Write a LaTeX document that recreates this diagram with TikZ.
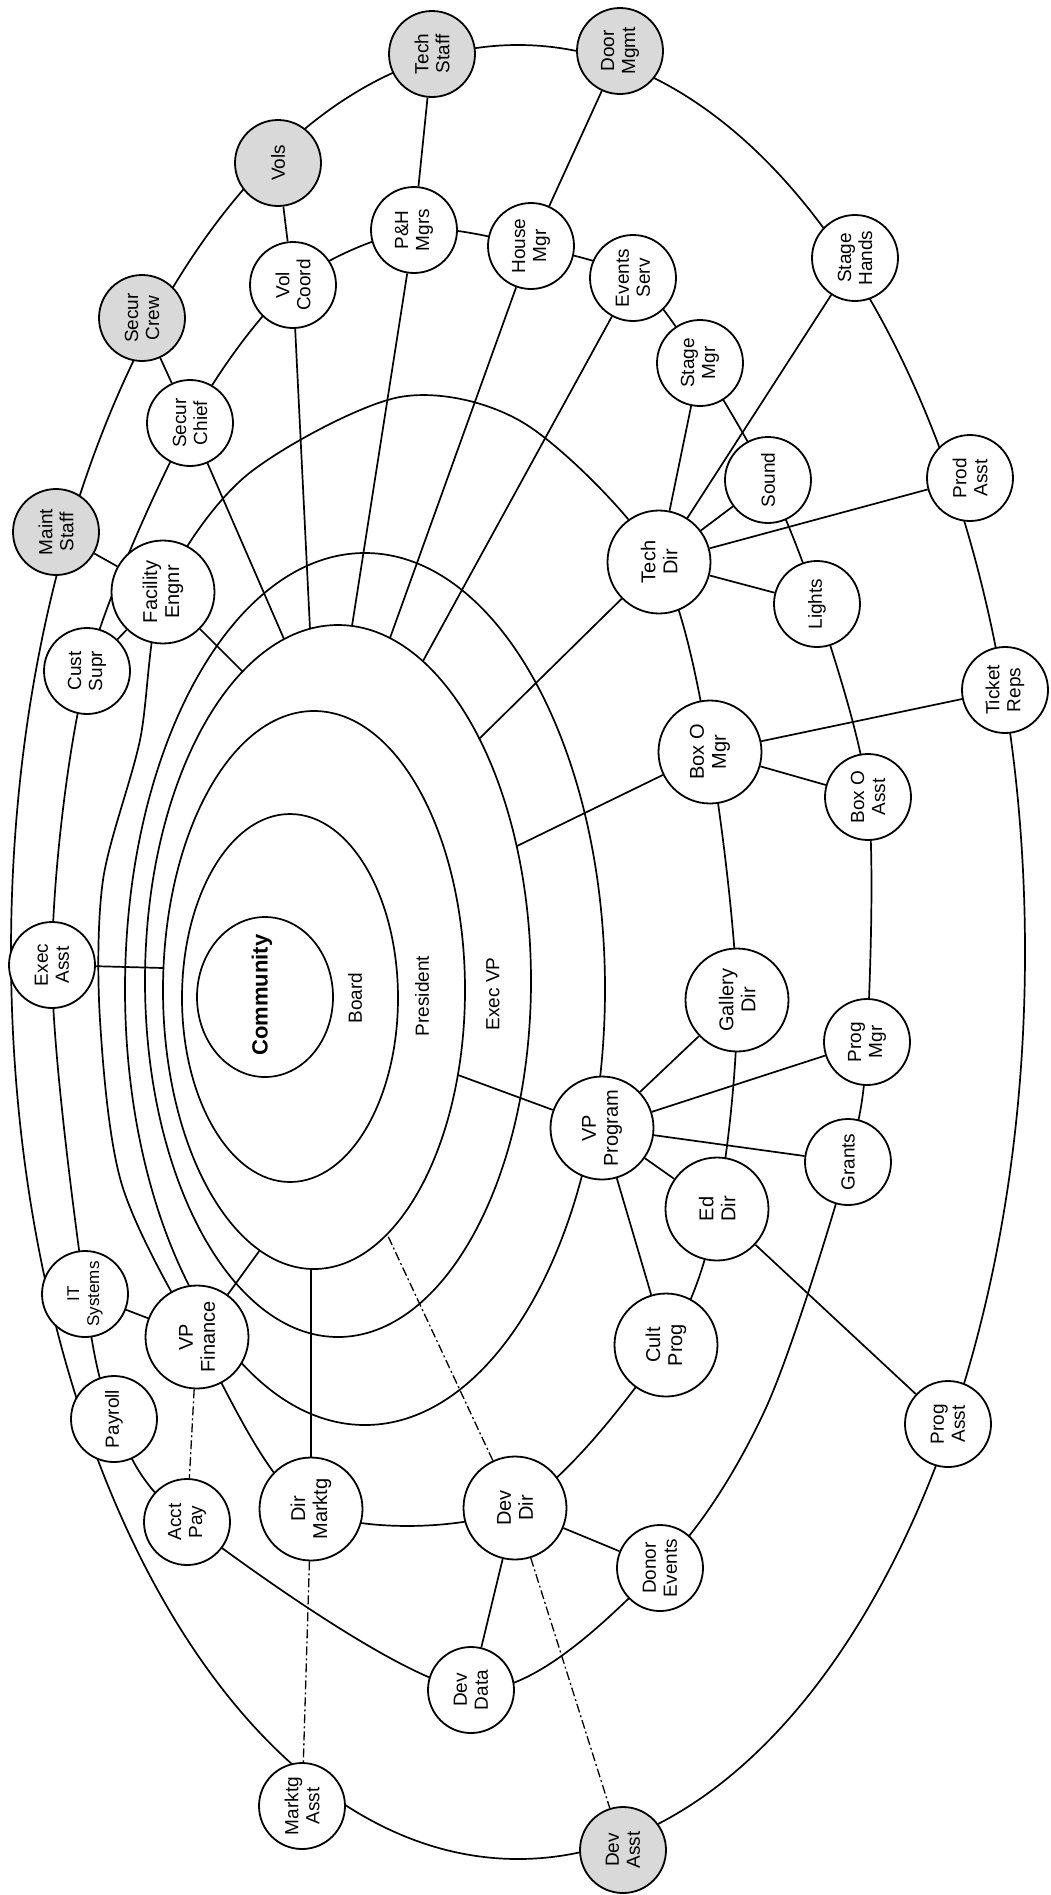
\documentclass[tikz,border=0pt]{standalone}
\usepackage{fontspec}
\setmainfont{Liberation Sans}
\pgfdeclarelayer{bg}
\pgfsetlayers{bg,main}
\begin{document}
\begin{tikzpicture}[x=1pt,y=-1pt,
  ring/.style={line width=1.7pt},
  conn/.style={line width=1.7pt},
  dd/.style={line width=1.3pt, dash pattern=on 9pt off 3pt on 2pt off 3pt},
  person/.style={circle, draw, line width=1.8pt, fill=white, inner sep=0pt, minimum size=86pt, align=center, font=\fontsize{19}{21}\selectfont, rotate=90},
  chief/.style={person, minimum size=103pt, font=\fontsize{20}{22}\selectfont},
  shaded/.style={fill=black!15},
  level/.style={font=\fontsize{19}{21}\selectfont, rotate=90, inner sep=0pt},
]
\useasboundingbox (0,0) rectangle (1050,1895);

% ---------- nodes ----------
\node[person, shaded] (techstaff) at (432,54) {Tech\\Staff};
\node[person, shaded] (drama) at (620,51) {Door\\Mgmt};
\node[person, shaded] (vols) at (278,163) {Vols};
\node[person, shaded] (secrew) at (142,318) {Secur\\Crew};
\node[person, shaded] (maint) at (56,532) {Maint\\Staff};
\node[person] (fb) at (414,230) {P\&H\\Mgrs};
\node[person] (volc) at (293,285) {Vol\\Coord};
\node[person] (secchief) at (190,423) {Secur\\Chief};
\node[person] (house) at (531,246) {House\\Mgr};
\node[person] (events) at (633,278) {Events\\Serv};
\node[person] (stagemgr) at (700,363) {Stage\\Mgr};
\node[person] (stagehands) at (855,258) {Stage\\Hands};
\node[person] (sound) at (768,480) {Sound};
\node[person] (prodasst) at (970,478) {Prod\\Asst};
\node[chief] (techdir) at (659,562) {Tech\\Dir};
\node[person] (lights) at (817,604) {Lights};
\node[person] (ticket) at (1005,690) {Ticket\\Reps};
\node[chief] (boxmgr) at (710,752) {Box O\\Mgr};
\node[person] (boxasst) at (868,797) {Box O\\Asst};
\node[chief] (gallery) at (737,1000) {Gallery\\Dir};
\node[person] (progmgr) at (867,1042) {Prog\\Mgr};
\node[chief] (vpprog) at (602,1128) {VP\\Program};
\node[person] (grants) at (848,1162) {Grants};
\node[chief] (eddir) at (717,1209) {Ed\\Dir};
\node[chief] (cult) at (666,1345) {Cult\\Prog};
\node[person] (progasst) at (948,1424) {Prog\\Asst};
\node[person] (donor) at (660,1568) {Donor\\Events};
\node[person, shaded] (devasst) at (623,1850) {Dev\\Asst};
\node[chief] (devdir) at (515,1508) {Dev\\Dir};
\node[person] (devdata) at (471,1690) {Dev\\Data};
\node[chief] (dirmktg) at (311,1509) {Dir\\Marktg};
\node[person] (mktgasst) at (302,1806) {Marktg\\Asst};
\node[person] (acctpay) at (187,1522) {Acct\\Pay};
\node[person] (payroll) at (114,1419) {Payroll};
\node[chief] (vpfin) at (197,1337) {VP\\Finance};
\node[person, font=\fontsize{17}{20}\selectfont] (itsys) at (85,1294) {IT\\Systems};
\node[person] (execasst) at (52,965) {Exec\\Asst};
\node[person] (cust) at (87,671) {Cust\\Supr};
\node[chief] (fac) at (163,592) {Facility\\Engnr};

\node[level, font=\bfseries\fontsize{22}{24}\selectfont] (community) at (262,995) {Community};
\node[level] (board) at (355,998) {Board};
\node[level] (president) at (422,996) {President};
\node[level] (execvp) at (493,994) {Exec VP};

% ---------- helper coordinates ----------
\coordinate (r2a) at (765,1410);
\coordinate (r3a) at (247,475);
\coordinate (r3b) at (400,397);
\coordinate (r3c) at (527,425);
\coordinate (r3d) at (122,1185);
\coordinate (r3e) at (100,1020);
\coordinate (r3f) at (103,880);
\coordinate (r3g) at (140,740);

\coordinate (s1) at (310,629);
\coordinate (s2) at (352,626);
\coordinate (s3) at (390,638);
\coordinate (s4) at (423,661);
\coordinate (s5) at (284,639);
\coordinate (s6) at (243,672);
\coordinate (s7) at (479,739);
\coordinate (s8) at (517,846);
\coordinate (p1) at (458,1075);
\coordinate (p2) at (260,1250);
\coordinate (p3) at (311,1269);
\coordinate (p4) at (387,1234);
\coordinate (p5) at (163,968);

\begin{pgfonlayer}{bg}
\fill[white] (0,0) rectangle (1050,1895);
% rings
\draw[ring] (518,952) ellipse [x radius=507pt, y radius=907pt];
\draw[ring] (265,997) ellipse [x radius=68pt, y radius=80pt];
\draw[ring] (290,998) ellipse [x radius=108pt, y radius=184pt];
\draw[ring] (314,990) ellipse [x radius=151pt, y radius=279pt];
\draw[ring] (338,981) ellipse [x radius=193pt, y radius=356pt];
\draw[ring] (365,989) ellipse [x radius=240pt, y radius=436pt];
\draw[ring] plot[smooth cycle, tension=0.5] coordinates {(cust) (secchief) (volc) (fb) (house) (events) (stagemgr) (sound) (lights) (boxasst) (progmgr) (grants) (r2a) (donor) (devdata) (acctpay) (payroll) (itsys) (execasst)};
\draw[ring] plot[smooth cycle, tension=0.5] coordinates {(fac) (r3a) (r3b) (r3c) (techdir) (boxmgr) (gallery) (eddir) (cult) (devdir) (dirmktg) (vpfin) (r3d) (r3e) (r3f) (r3g)};

% connectors
\draw[conn] (vols) -- (volc);
\draw[conn] (techstaff) -- (fb);
\draw[conn] (drama) -- (house);
\draw[conn] (secrew) -- (secchief);
\draw[conn] (maint) -- (fac);
\draw[conn] (cust) -- (fac);
\draw[conn] (volc) -- (s1);
\draw[conn] (fb) -- (s2);
\draw[conn] (house) -- (s3);
\draw[conn] (events) -- (s4);
\draw[conn] (secchief) -- (s5);
\draw[conn] (fac) -- (s6);
\draw[conn] (techdir) -- (stagehands);
\draw[conn] (techdir) -- (stagemgr);
\draw[conn] (techdir) -- (sound);
\draw[conn] (techdir) -- (prodasst);
\draw[conn] (techdir) -- (lights);
\draw[conn] (techdir) -- (s7);
\draw[conn] (boxmgr) -- (ticket);
\draw[conn] (boxmgr) -- (boxasst);
\draw[conn] (boxmgr) -- (s8);
\draw[conn] (vpprog) -- (gallery);
\draw[conn] (vpprog) -- (progmgr);
\draw[conn] (vpprog) -- (grants);
\draw[conn] (vpprog) -- (eddir);
\draw[conn] (vpprog) -- (cult);
\draw[conn] (vpprog) -- (p1);
\draw[conn] (eddir) -- (progasst);
\draw[conn] (devdir) -- (donor);
\draw[conn] (devdir) -- (devdata);
\draw[dd] (devdir) -- (devasst);
\draw[dd] (devdir) -- (p4);
\draw[dd] (dirmktg) -- (mktgasst);
\draw[conn] (dirmktg) -- (p3);
\draw[conn] (vpfin) -- (itsys);
\draw[dd] (vpfin) -- (acctpay);
\draw[conn] (vpfin) -- (p2);
\draw[conn] (execasst) -- (p5);
\end{pgfonlayer}
\end{tikzpicture}
\end{document}
